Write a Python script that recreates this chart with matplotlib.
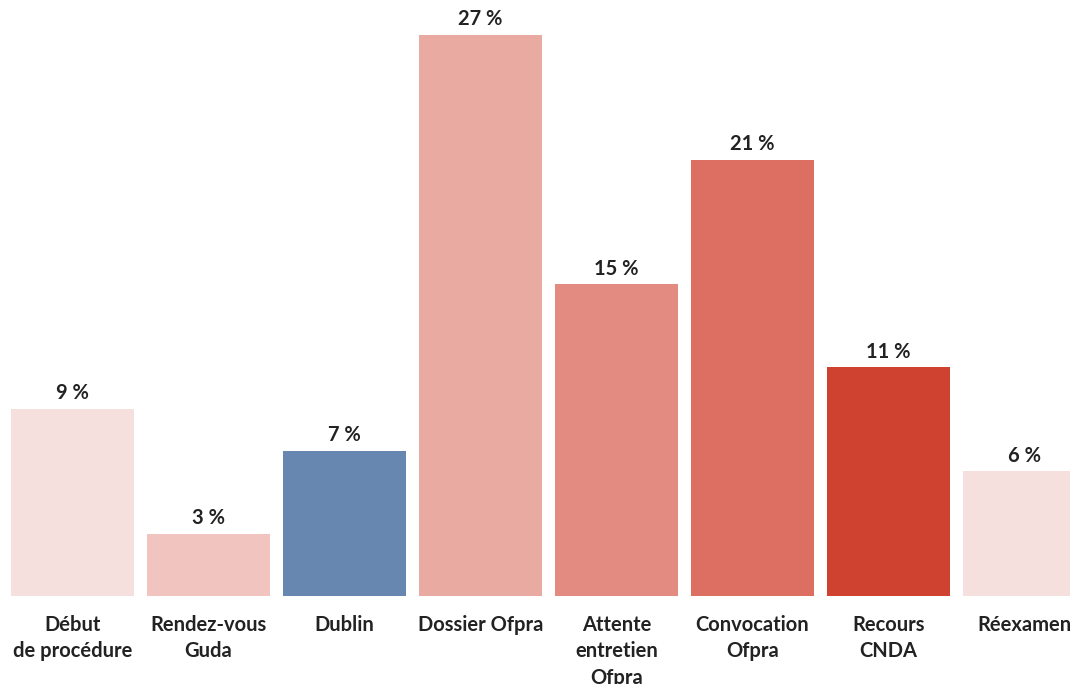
import matplotlib
matplotlib.use('Agg')
from matplotlib import pyplot as plt

categories = ['Début\nde procédure', 'Rendez-vous\nGuda', 'Dublin', 'Dossier Ofpra',
              'Attente\nentretien\nOfpra', 'Convocation\nOfpra', 'Recours\nCNDA', 'Réexamen']
values = [9, 3, 7, 27, 15, 21, 11, 6]
colors = ['#f6e0de', '#f1c4bf', '#6787b0', '#e9aaa2', '#e38b80', '#dc6f62', '#d04230', '#f6e0de']

plt.rcParams['font.family'] = ['Lato', 'DejaVu Sans']


def main():
    fig = plt.figure(figsize=(10.7, 6.84), dpi=100)
    ax = fig.add_axes([0, 0.1287, 1, 0.8713])
    x = list(range(len(values)))
    bars = ax.bar(x, values, width=0.904, color=colors)
    for b, v in zip(bars, values):
        ax.annotate(f'{v} %', (b.get_x() + b.get_width() / 2, v),
                    xytext=(0, 4), textcoords='offset points',
                    ha='center', va='bottom', fontsize=14.5, fontweight='bold', color='#222222')
    ax.set_xlim(-0.533, 7.335)
    ax.set_ylim(0, 28.68)
    ax.set_xticks(x)
    ax.set_xticklabels(categories, fontsize=14.5, fontweight='bold', color='#222222', linespacing=1.38)
    ax.tick_params(axis='x', length=0, pad=14)
    ax.set_yticks([])
    for s in ax.spines.values():
        s.set_visible(False)
    fig.savefig('out.png', dpi=100)


if __name__ == '__main__':
    main()
